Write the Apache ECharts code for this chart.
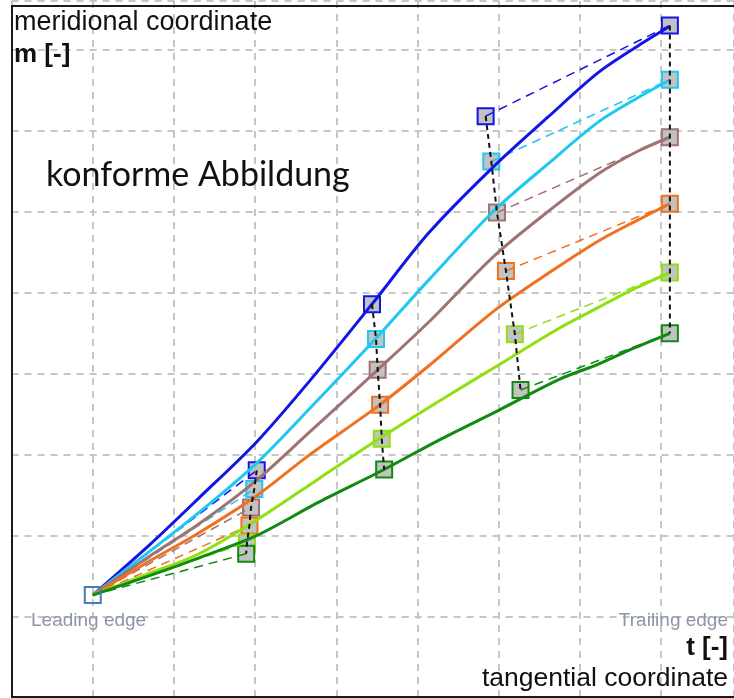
<!DOCTYPE html>
<html>
<head>
<meta charset="utf-8">
<script src="https://cdn.jsdelivr.net/npm/echarts@6/dist/echarts.min.js"></script>
<style>
html,body{margin:0;padding:0;background:#fff;}
#chart{width:734px;height:698px;}
</style>
</head>
<body>
<div id="chart"></div>
<script>
// ---- data (t = tangential, m = meridional, in grid units) ----
var curveNames = ['blue', 'cyan', 'brown', 'orange', 'lightgreen', 'darkgreen'];
var leadingEdge = [0, 0.27];

var blueCurve = [[0,0.27],[0.70,0.89],[1.31,1.47],[2.01,2.15],[2.67,2.91],[3.44,3.86],[4.14,4.74],[4.91,5.53],[5.61,6.17],[6.23,6.72],[6.72,7.05],[7.11,7.29]];
var cyanCurve = [[0,0.27],[0.70,0.81],[1.31,1.29],[2.01,1.89],[2.67,2.57],[3.49,3.44],[4.14,4.16],[4.94,5.01],[5.63,5.61],[6.23,6.11],[6.72,6.41],[7.11,6.63]];
var brownCurve = [[0,0.27],[0.70,0.75],[1.31,1.15],[2.01,1.68],[2.67,2.28],[3.51,3.05],[4.14,3.64],[4.95,4.46],[5.63,5.02],[6.23,5.47],[6.72,5.75],[7.11,5.92]];
var orangeCurve = [[0,0.27],[0.70,0.69],[1.31,1.04],[2.01,1.49],[2.67,2.00],[3.54,2.62],[4.14,3.10],[4.96,3.79],[5.64,4.26],[6.23,4.64],[6.66,4.87],[7.11,5.10]];
var lightgreenCurve = [[0,0.27],[0.70,0.54],[1.31,0.78],[2.01,1.19],[2.79,1.71],[3.56,2.22],[4.26,2.66],[5.00,3.11],[5.74,3.56],[6.23,3.82],[6.65,4.04],[7.11,4.25]];
var darkgreenCurve = [[0,0.27],[0.70,0.51],[1.31,0.73],[2.01,1.00],[2.79,1.42],[3.59,1.82],[4.26,2.18],[5.00,2.55],[5.74,2.93],[6.23,3.12],[6.65,3.31],[7.11,3.50]];

// control-point markers, one per curve (same order as curveNames)
var col2Markers = [[2.02,1.81],[1.99,1.58],[1.95,1.35],[1.93,1.13],[1.90,0.92],[1.89,0.78]];
var col3Markers = [[3.44,3.86],[3.49,3.43],[3.51,3.05],[3.54,2.62],[3.56,2.20],[3.59,1.82]];
var col4Markers = [[4.84,6.18],[4.91,5.62],[4.98,4.99],[5.09,4.27],[5.20,3.49],[5.27,2.80]];
var teMarkers   = [[7.11,7.30],[7.11,6.63],[7.11,5.92],[7.11,5.10],[7.11,4.25],[7.11,3.50]];

// ---- styles ----
var colors = ['#1414e6', '#1ec8f0', '#a07272', '#f07020', '#90e010', '#108a10'];
var curves = [blueCurve, cyanCurve, brownCurve, orangeCurve, lightgreenCurve, darkgreenCurve];

var series = [];
// markers (below lines)
curveNames.forEach(function (n, i) {
  series.push({
    type: 'scatter', name: n + ' points', z: 2,
    symbol: 'rect', symbolSize: 16,
    itemStyle: { color: '#c2c2c2', borderColor: colors[i], borderWidth: 2, opacity: 1 },
    data: [col2Markers[i], col3Markers[i], col4Markers[i], teMarkers[i]]
  });
});
// dashed control polygon segments
curveNames.forEach(function (n, i) {
  [[leadingEdge, col2Markers[i]], [col4Markers[i], teMarkers[i]]].forEach(function (seg) {
    series.push({
      type: 'line', z: 3, symbol: 'none', silent: true,
      lineStyle: { color: colors[i], width: 1.5, type: [9, 6] },
      data: seg
    });
  });
});
// curves
curveNames.forEach(function (n, i) {
  series.push({
    type: 'line', name: n, z: 4, symbol: 'none', smooth: 0.3,
    lineStyle: { color: colors[i], width: 3 },
    data: curves[i]
  });
});
// black dotted column lines
[col2Markers, col3Markers, col4Markers, teMarkers].forEach(function (col) {
  series.push({
    type: 'line', z: 5, symbol: 'none',
    lineStyle: { color: '#111', width: 2, type: [5, 4] },
    data: col
  });
});
// leading edge marker
series.push({
  type: 'scatter', z: 6, symbol: 'rect', symbolSize: 16,
  itemStyle: { color: 'rgba(0,0,0,0)', borderColor: '#4a7ab8', borderWidth: 2, opacity: 1 },
  data: [leadingEdge]
});

var chart = echarts.init(document.getElementById('chart'), null, { renderer: 'canvas' });
chart.setOption({
  animation: false,
  backgroundColor: '#fff',
  grid: { left: 11.6, right: -2.1, top: 1.1, bottom: -5.7 },
  xAxis: {
    type: 'value', min: -1, max: 7.9, interval: 1,
    axisLine: { show: false }, axisTick: { show: false }, axisLabel: { show: false },
    splitLine: { show: true, lineStyle: { color: '#c6c6c6', width: 2, type: [7, 6] } }
  },
  yAxis: {
    type: 'value', min: -1, max: 7.6, interval: 1,
    axisLine: { show: false }, axisTick: { show: false }, axisLabel: { show: false },
    splitLine: { show: true, lineStyle: { color: '#c6c6c6', width: 2, type: [7, 6] } }
  },
  series: series,
  graphic: [
    { type: 'rect', z: 100, silent: true, shape: { x: 12, y: 6, width: 740, height: 691 },
      style: { fill: 'none', stroke: '#1a1a1a', lineWidth: 2 } },
    { type: 'text', z: 100, left: 14, top: 9,
      style: { text: 'meridional coordinate', font: '27px "Liberation Sans", Arial, sans-serif', fill: '#111' } },
    { type: 'text', z: 100, left: 14, top: 42,
      style: { text: 'm [-]', font: 'bold 26px "Liberation Sans", Arial, sans-serif', fill: '#111' } },
    { type: 'text', z: 100, right: 6, top: 635,
      style: { text: 't [-]', font: 'bold 26px "Liberation Sans", Arial, sans-serif', fill: '#111' } },
    { type: 'text', z: 100, right: 6, top: 665,
      style: { text: 'tangential coordinate', font: '26.5px "Liberation Sans", Arial, sans-serif', fill: '#111' } },
    { type: 'text', z: 100, left: 31, top: 611,
      style: { text: 'Leading edge', font: '19px "Liberation Sans", Arial, sans-serif', fill: '#8c96a8' } },
    { type: 'text', z: 100, right: 6, top: 611,
      style: { text: 'Trailing edge', font: '19px "Liberation Sans", Arial, sans-serif', fill: '#8c96a8' } },
    { type: 'text', z: 100, left: 46, top: 158,
      style: { text: 'konforme Abbildung', font: '34px Lato, "Open Sans", sans-serif', fill: '#111' } }
  ]
});
</script>
</body>
</html>
